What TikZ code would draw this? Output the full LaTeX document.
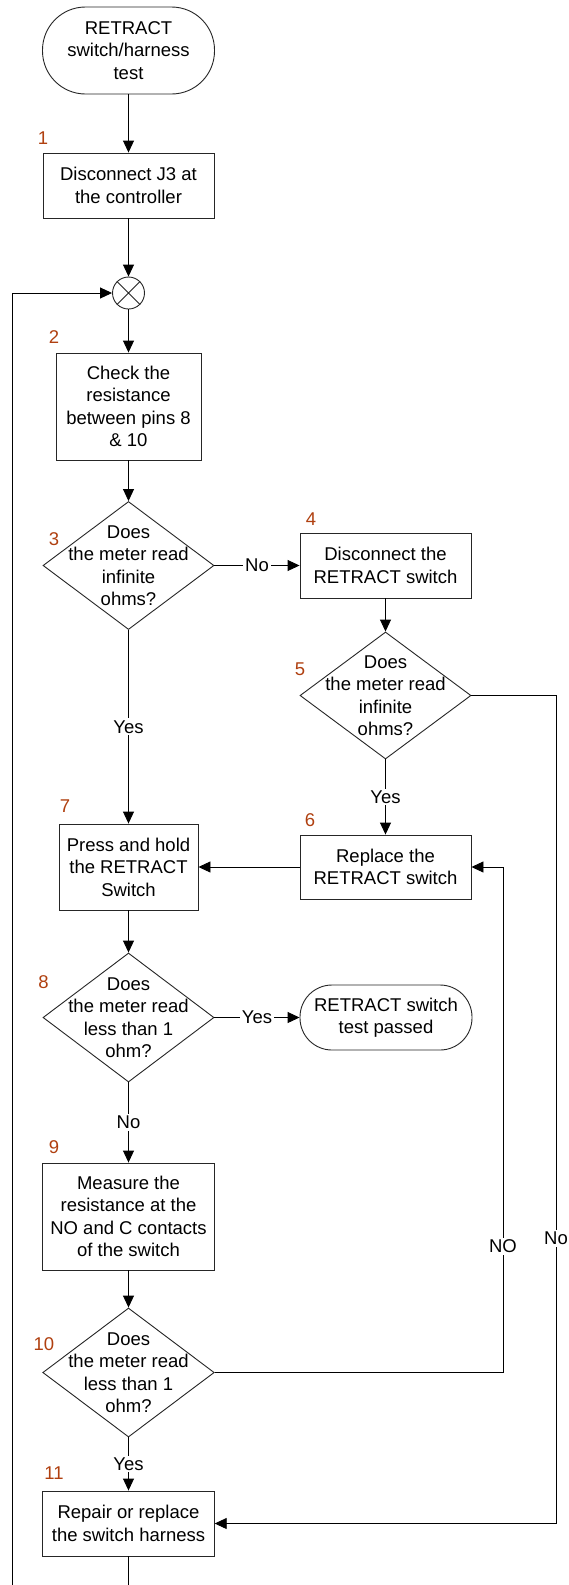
\documentclass[tikz,border=0pt]{standalone}
\usepackage{fontspec}
\setmainfont{Liberation Sans}
\usetikzlibrary{shapes.geometric,arrows.meta}
\definecolor{numc}{RGB}{176,64,16}
\begin{document}
\begin{tikzpicture}[x=1pt,y=-1pt,
  font=\fontsize{18.5}{22.5}\selectfont,
  proc/.style={draw=black!85,line width=0.9pt,align=center,inner sep=0pt},
  dia/.style={draw=black!85,diamond,line width=0.9pt,inner sep=0pt},
  diatext/.style={align=center,inner sep=0pt},
  lbl/.style={fill=white,inner sep=2pt},
  num/.style={text=numc,inner sep=0pt},
  arr/.style={-{Triangle[length=12pt,width=11pt]},line width=0.9pt,draw=black}]
\fill[white] (0,0) rectangle (569,1585);
\useasboundingbox (0,0) rectangle (569,1585);

% nodes
\node[proc,minimum width=172,minimum height=87,rounded corners=43] (start) at (128.5,50.5) {RETRACT\\switch/harness\\test};
\node[proc,minimum width=171,minimum height=65] (b1) at (128.5,185.5) {Disconnect J3 at\\the controller};
\node[draw=black!85,circle,minimum size=32,inner sep=0pt,line width=0.9pt] (cx) at (128.5,293) {};
\draw[line width=0.9pt,black!85] (cx.north west) -- (cx.south east) (cx.north east) -- (cx.south west);
\node[proc,minimum width=145,minimum height=107] (b2) at (128.5,406.5) {Check the\\resistance\\between pins 8\\\& 10};
\node[dia,minimum width=171,minimum height=128] (d3) at (128.5,565.5) {};
\node[diatext] (d3t) at (d3) {Does\\the meter read\\infinite\\ohms?};
\node[proc,minimum width=171,minimum height=65] (b4) at (385.5,565.5) {Disconnect the\\RETRACT switch};
\node[dia,minimum width=171,minimum height=127] (d5) at (385.5,695.5) {};
\node[diatext] (d5t) at (d5) {Does\\the meter read\\infinite\\ohms?};
\node[proc,minimum width=171,minimum height=64] (b6) at (385.5,867) {Replace the\\RETRACT switch};
\node[proc,minimum width=139,minimum height=86] (b7) at (128.5,867) {Press and hold\\the RETRACT\\Switch};
\node[dia,minimum width=171,minimum height=129] (d8) at (128.5,1017.5) {};
\node[diatext] (d8t) at (d8) {Does\\the meter read\\less than 1\\ohm?};
\node[proc,minimum width=172,minimum height=65,rounded corners=32] (t2) at (386,1017.5) {RETRACT switch\\test passed};
\node[proc,minimum width=171.5,minimum height=107] (b9) at (128.5,1216.5) {Measure the\\resistance at the\\NO and C contacts\\of the switch};
\node[dia,minimum width=171.5,minimum height=129] (d10) at (128.5,1372.5) {};
\node[diatext] (d10t) at (d10) {Does\\the meter read\\less than 1\\ohm?};
\node[proc,minimum width=171.5,minimum height=65] (b11) at (128.5,1523.5) {Repair or replace\\the switch harness};

% step numbers
\node[num] (n1) at (43,138) {1};
\node[num] (n2) at (54,337) {2};
\node[num] (n3) at (54,539) {3};
\node[num] (n4) at (311,519) {4};
\node[num] (n5) at (300,669) {5};
\node[num] (n6) at (310,820) {6};
\node[num] (n7) at (65,806) {7};
\node[num] (n8) at (43.5,982) {8};
\node[num] (n9) at (54,1147) {9};
\node[num] (n10) at (44,1344) {10};
\node[num] (n11) at (54,1473) {11};

% connectors
\draw[arr] (start) -- (b1);
\draw[arr] (b1) -- (cx);
\draw[arr] (cx) -- (b2);
\draw[arr] (b2) -- (d3);
\draw[arr] (d3) -- node[lbl]{No} (b4);
\draw[arr] (b4) -- (d5);
\draw[arr] (d3) -- node[lbl]{Yes} (b7);
\draw[arr] (d5) -- node[lbl]{Yes} (b6);
\draw[arr] (b6) -- (b7);
\draw[arr] (b7) -- (d8);
\draw[arr] (d8) -- node[lbl]{Yes} (t2);
\draw[arr] (d8) -- node[lbl]{No} (b9);
\draw[arr] (b9) -- (d10);
\draw[arr] (d10) -- node[lbl]{Yes} (b11);
\draw[arr] (d10.east) -- (503,1372.5) -- node[lbl,pos=0.25]{NO} (503,867) -- (b6.east);
\draw[arr] (d5.east) -- (556,695.5) -- node[lbl,pos=0.656]{No} (556,1523.5) -- (b11.east);
\draw[arr] (b11.south) -- (128.5,1600) -- (12,1600) -- (12,293) -- (cx.west);
\end{tikzpicture}
\end{document}
